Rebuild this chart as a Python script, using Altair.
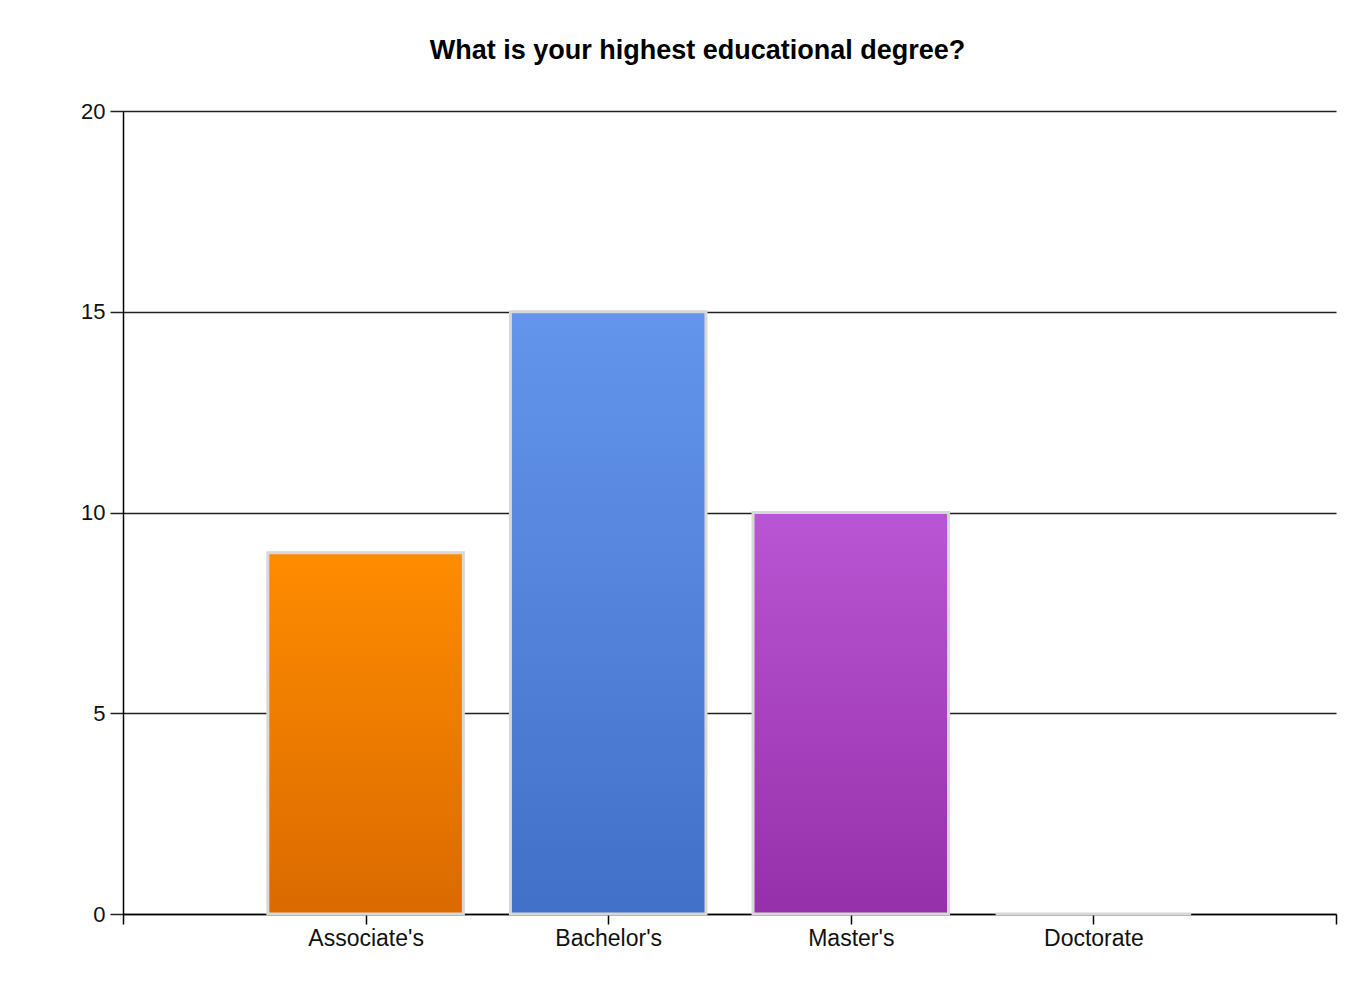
import json
import altair as alt
import pandas as pd

categories = ["Associate's", "Bachelor's", "Master's", "Doctorate"]
counts = [9, 15, 10, 0]
positions = [1, 2, 3, 4]
top_colors = ["#FF8C00", "#6495ED", "#BA55D3", "#D0D0D0"]
bottom_colors = ["#DA6A00", "#4170C8", "#9630AA", "#D0D0D0"]
y_ticks = [0, 5, 10, 15, 20]

df = pd.DataFrame({"cat": categories, "count": counts, "pos": positions})
df["lo"] = df["pos"] - 0.403
df["hi"] = df["pos"] + 0.403

tick_labels = [""] + categories + [""]
label_expr = json.dumps(tick_labels) + "[datum.value]"

x_scale = alt.Scale(domain=[0, 5], nice=False, zero=False)
y_scale = alt.Scale(domain=[0, 20], nice=False)

layers = []
for i, c in enumerate(categories):
    grad = alt.LinearGradient(
        gradient="linear",
        stops=[alt.GradientStop(color=top_colors[i], offset=0),
               alt.GradientStop(color=bottom_colors[i], offset=1)],
        x1=0, x2=0, y1=0, y2=1,
    )
    enc = dict(
        x=alt.X("lo:Q", scale=x_scale),
        x2="hi:Q",
        y=alt.Y("count:Q", scale=y_scale),
        y2=alt.datum(0),
    )
    if i == 0:
        enc["x"] = alt.X(
            "lo:Q", scale=x_scale, title=None,
            axis=alt.Axis(values=[0, 1, 2, 3, 4, 5], labelExpr=label_expr, grid=False,
                          domainColor="#000", domainWidth=1.5, tickColor="#000", tickWidth=1.5,
                          tickSize=10, labelFontSize=23, labelColor="#111", labelPadding=3,
                          labelFont="Liberation Sans"),
        )
        enc["y"] = alt.Y(
            "count:Q", scale=y_scale, title=None,
            axis=alt.Axis(values=y_ticks, grid=True, gridColor="#222", gridWidth=1.5,
                          domainColor="#000", domainWidth=1.5, tickColor="#222", tickWidth=1.5,
                          tickSize=13, labelFontSize=22, labelColor="#111", labelPadding=5,
                          labelFont="Liberation Sans"),
        )
    layer = (
        alt.Chart(df)
        .transform_filter(alt.datum.cat == c)
        .mark_bar(fill=grad, stroke="#D8D8D8", strokeWidth=3)
        .encode(**enc)
    )
    layers.append(layer)

chart = (
    alt.layer(*layers)
    .properties(
        width=1213,
        height=803,
        padding={"left": 115, "top": 103, "right": 25, "bottom": 60},
        autosize=alt.AutoSizeParams(type="none"),
        title=alt.TitleParams(
            "What is your highest educational degree?",
            fontSize=27, fontWeight="bold", font="Liberation Sans", color="#000",
            anchor="middle", dx=-32, offset=35,
        ),
        background="white",
    )
    .configure_view(strokeWidth=0)
)

chart.save("out.html", embed_options={"renderer": "svg", "actions": False})
